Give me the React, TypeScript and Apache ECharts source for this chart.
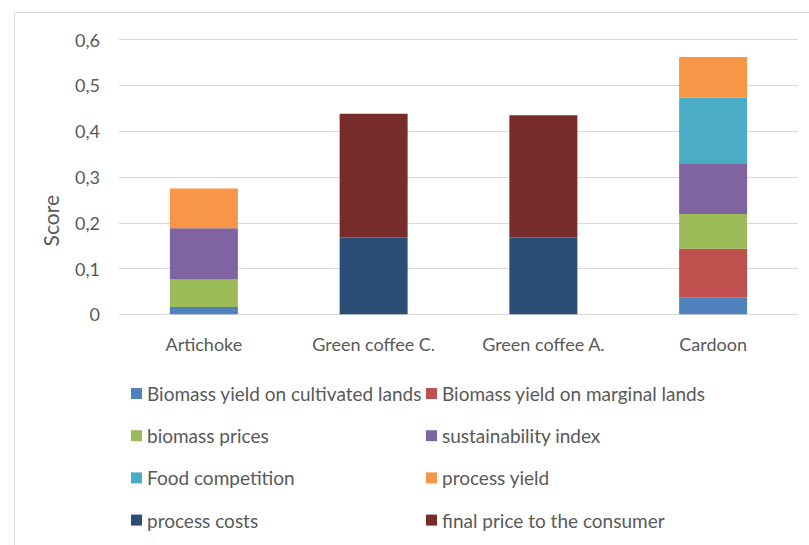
import React, { useEffect, useRef } from "react";
import * as echarts from "echarts";

const categories = ["Artichoke", "Green coffee C.", "Green coffee A.", "Cardoon"];
const yTicks = [0, 0.1, 0.2, 0.3, 0.4, 0.5, 0.6];
const yAxisTitle = "Score";

const cultivatedLands = [0.016, null, null, 0.037];
const marginalLands = [null, null, null, 0.106];
const biomassPrices = [0.06, null, null, 0.076];
const sustainabilityIndex = [0.112, null, null, 0.111];
const foodCompetition = [null, null, null, 0.143];
const processYield = [0.087, null, null, 0.089];
const processCosts = [null, 0.168, 0.168, null];
const finalPrice = [null, 0.27, 0.267, null];

const seriesDefs = [
  { name: "Biomass yield on cultivated lands", data: cultivatedLands, color: "#4f81bd" },
  { name: "Biomass yield on marginal lands", data: marginalLands, color: "#c0504d" },
  { name: "biomass prices", data: biomassPrices, color: "#9bbb59" },
  { name: "sustainability index", data: sustainabilityIndex, color: "#8064a2" },
  { name: "Food competition", data: foodCompetition, color: "#4bacc6" },
  { name: "process yield", data: processYield, color: "#f79646" },
  { name: "process costs", data: processCosts, color: "#2c4d75" },
  { name: "final price to the consumer", data: finalPrice, color: "#772c2a" },
];

const FONT = "Lato";
const TEXT = "#595959";

export default function App() {
  const ref = useRef<HTMLDivElement>(null);
  useEffect(() => {
    if (!ref.current) return;
    const chart = echarts.init(ref.current, null, { renderer: "svg" });
    const legendText = { color: TEXT, fontFamily: FONT, fontSize: 19, lineHeight: 20 };
    const legendBase = {
      orient: "vertical",
      top: 383.5,
      padding: 0,
      itemWidth: 11,
      itemHeight: 11,
      itemGap: 22.2,
      icon: "rect",
      textStyle: legendText,
    };
    chart.setOption({
      animation: false,
      backgroundColor: "#fff",
      textStyle: { fontFamily: FONT },
      graphic: [
        {
          type: "rect",
          shape: { x: 14.5, y: 12.5, width: 820, height: 560 },
          style: { fill: "none", stroke: "#d9d9d9", lineWidth: 1 },
          silent: true,
        },
        {
          type: "text",
          x: 50.5,
          y: 220.7,
          rotation: Math.PI / 2,
          silent: true,
          style: {
            text: yAxisTitle,
            fill: TEXT,
            fontFamily: FONT,
            fontSize: 21,
            align: "center",
            verticalAlign: "middle",
          },
        },
      ],
      grid: { left: 119, right: 11, top: 39.7, bottom: 230.7, containLabel: false },
      legend: [
        {
          ...legendBase,
          left: 131,
          data: [seriesDefs[0].name, seriesDefs[2].name, seriesDefs[4].name, seriesDefs[6].name],
        },
        {
          ...legendBase,
          left: 426,
          data: [seriesDefs[1].name, seriesDefs[3].name, seriesDefs[5].name, seriesDefs[7].name],
        },
      ],
      xAxis: {
        type: "category",
        data: categories,
        axisLine: { lineStyle: { color: "#d9d9d9", width: 1 } },
        axisTick: { show: false },
        axisLabel: { color: TEXT, fontFamily: FONT, fontSize: 18, margin: 21, interval: 0 },
      },
      yAxis: {
        type: "value",
        min: yTicks[0],
        max: yTicks[yTicks.length - 1],
        interval: 0.1,
        axisLine: { show: false },
        axisTick: { show: false },
        splitLine: { lineStyle: { color: "#d9d9d9", width: 1 } },
        axisLabel: {
          color: TEXT,
          fontFamily: FONT,
          fontSize: 18,
          margin: 19,
          formatter: (v: number) => (v === 0 ? "0" : v.toFixed(1).replace(".", ",")),
        },
      },
      series: seriesDefs.map((s) => ({
        name: s.name,
        type: "bar",
        stack: "total",
        data: s.data,
        barWidth: 68,
        itemStyle: { color: s.color },
      })),
    });
    return () => chart.dispose();
  }, []);
  return (
    <div
      ref={ref}
      style={{ position: "fixed", left: 0, top: 0, width: 809, height: 545 }}
    />
  );
}
